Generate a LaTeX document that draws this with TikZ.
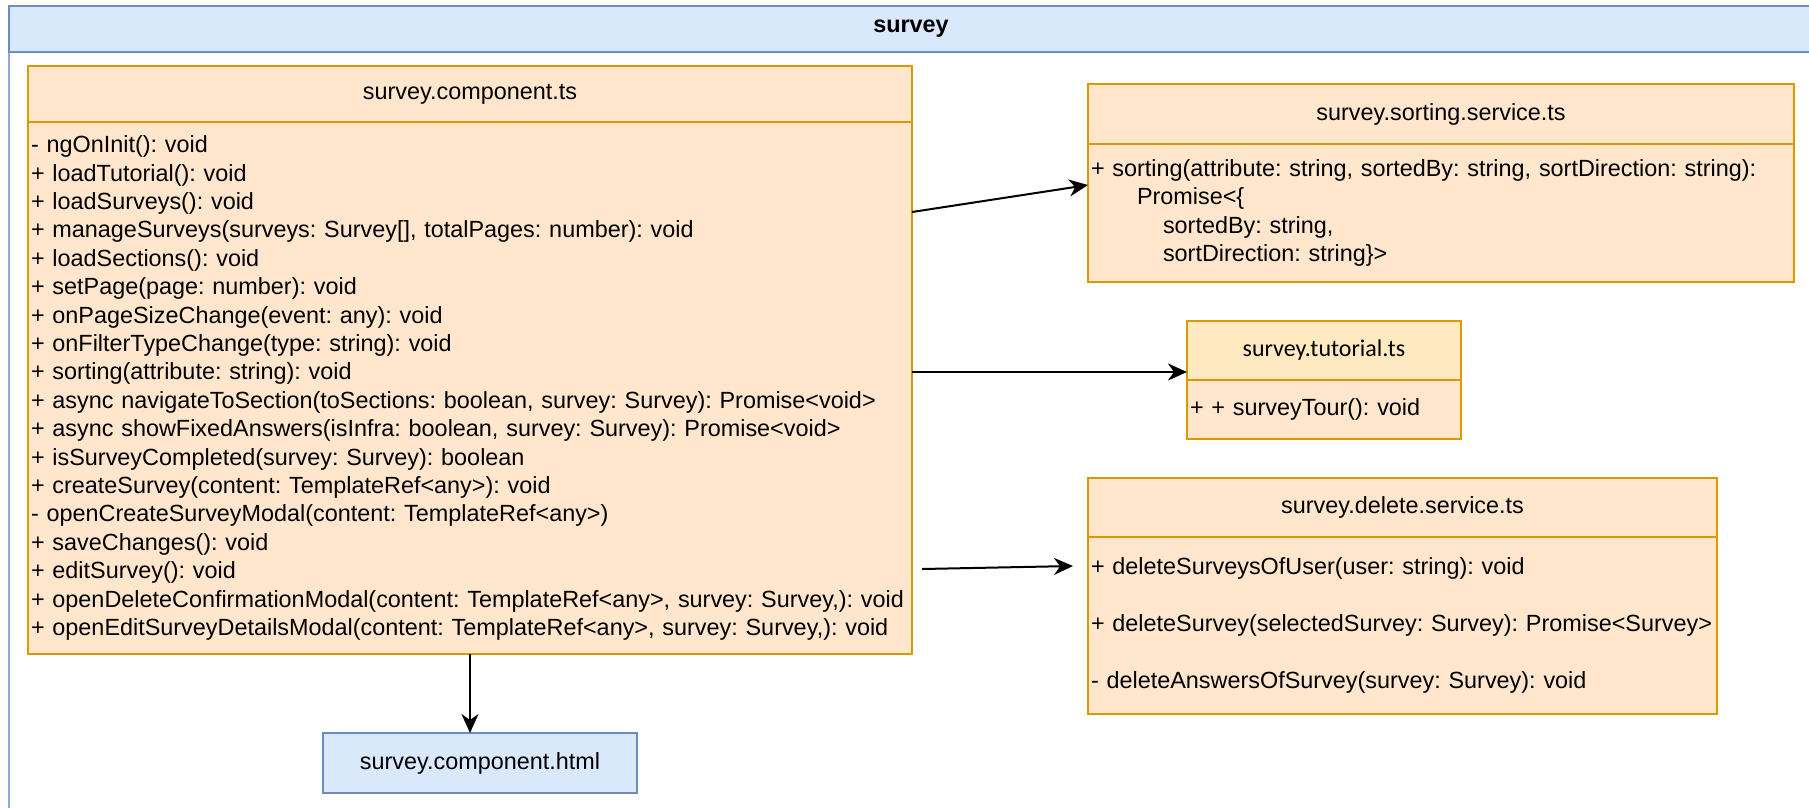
\documentclass[tikz,border=0pt]{standalone}
\usepackage{fontspec}
\setmainfont{Liberation Sans}
\newfontfamily\calibrifont{Carlito}
\usetikzlibrary{arrows.meta,positioning}
\frenchspacing

\definecolor{orangefill}{HTML}{FFE6CC}
\definecolor{orangeline}{HTML}{D79B00}
\definecolor{yellowfill}{HTML}{FFE9C0}
\definecolor{bluefill}{HTML}{DAE8FC}
\definecolor{blueline}{HTML}{6C8EBF}
\definecolor{frameline}{HTML}{8FAADC}

\newcommand{\umlfont}{\fontsize{23.4pt}{28.4pt}\selectfont}

\tikzstyle{every node}+=[font=\umlfont,inner sep=3pt,outer sep=0pt]
\tikzstyle{classhead}=[rectangle,draw=orangeline,fill=orangefill,line width=2pt,anchor=north west]
\tikzstyle{classbody}=[rectangle,draw=orangeline,fill=orangefill,line width=2pt,align=left,anchor=north west]
\tikzstyle{link}=[line width=2pt,-{Stealth[length=19pt,width=17pt,inset=6pt]}]

\begin{document}
\begin{tikzpicture}[x=1pt,y=-1pt]
\useasboundingbox (0,0) rectangle (1809,807);

% package frame
\draw[frameline,line width=2pt,fill=white] (9,6) rectangle (1813,830);
\node[rectangle,draw=blueline,fill=bluefill,line width=2pt,anchor=north west,
  minimum width=1804pt,minimum height=46pt,font=\umlfont\bfseries] (pkg) at (9,6) {survey};

% component class
\node[classhead,minimum width=884pt,minimum height=56pt] (comp) at (28,66) {survey.component.ts};
\node[classbody,minimum height=532pt,text width=878pt,below=0pt of comp.south west,anchor=north west] (compbody) {%
- ngOnInit(): void\\
+ loadTutorial(): void\\
+ loadSurveys(): void\\
+ manageSurveys(surveys: Survey[], totalPages: number): void\\
+ loadSections(): void\\
+ setPage(page: number): void\\
+ onPageSizeChange(event: any): void\\
+ onFilterTypeChange(type: string): void\\
+ sorting(attribute: string): void\\
+ async navigateToSection(toSections: boolean, survey: Survey): Promise<void>\\
+ async showFixedAnswers(isInfra: boolean, survey: Survey): Promise<void>\\
+ isSurveyCompleted(survey: Survey): boolean\\
+ createSurvey(content: TemplateRef<any>): void\\
- openCreateSurveyModal(content: TemplateRef<any>)\\
+ saveChanges(): void\\
+ editSurvey(): void\\
+ openDeleteConfirmationModal(content: TemplateRef<any>, survey: Survey,): void\\
+ openEditSurveyDetailsModal(content: TemplateRef<any>, survey: Survey,): void};

% sorting service
\node[classhead,minimum width=706pt,minimum height=60pt] (sort) at (1088,84) {survey.sorting.service.ts};
\node[classbody,minimum height=138pt,text width=700pt,below=0pt of sort.south west,anchor=north west] (sortbody) {%
+ sorting(attribute: string, sortedBy: string, sortDirection: string):\\
\hspace*{46pt}Promise<\{\\
\hspace*{72pt}sortedBy: string,\\
\hspace*{72pt}sortDirection: string\}>};

% tutorial
\node[classhead,fill=yellowfill,minimum width=274pt,minimum height=59pt,font=\fontsize{24pt}{28pt}\calibrifont] (tut) at (1187,321) {survey.tutorial.ts};
\node[classbody,minimum height=59pt,text width=268pt,below=0pt of tut.south west,anchor=north west] (tutbody) {+ + surveyTour(): void};

% delete service
\node[classhead,minimum width=629pt,minimum height=59pt] (del) at (1088,478) {survey.delete.service.ts};
\node[classbody,minimum height=177pt,text width=623pt,below=0pt of del.south west,anchor=north west] (delbody) {%
+ deleteSurveysOfUser(user: string): void\\[28.4pt]
+ deleteSurvey(selectedSurvey: Survey): Promise<Survey>\\[28.4pt]
- deleteAnswersOfSurvey(survey: Survey): void};

% template
\node[rectangle,draw=blueline,fill=bluefill,line width=2pt,minimum width=314pt,minimum height=60pt,anchor=north west] (html) at (323,733) {survey.component.html};

\coordinate (delfrom) at (922,569);
\coordinate (delto) at (1073,566);

\draw[link] (compbody.east |- 0,212) -- (sortbody.west |- 0,185);
\draw[link] (compbody.east |- 0,372) -- (tut.west |- 0,372);
\draw[link] (delfrom) -- (delto);
\draw[link] (compbody.south) -- (compbody.south |- html.north);
\end{tikzpicture}
\end{document}
